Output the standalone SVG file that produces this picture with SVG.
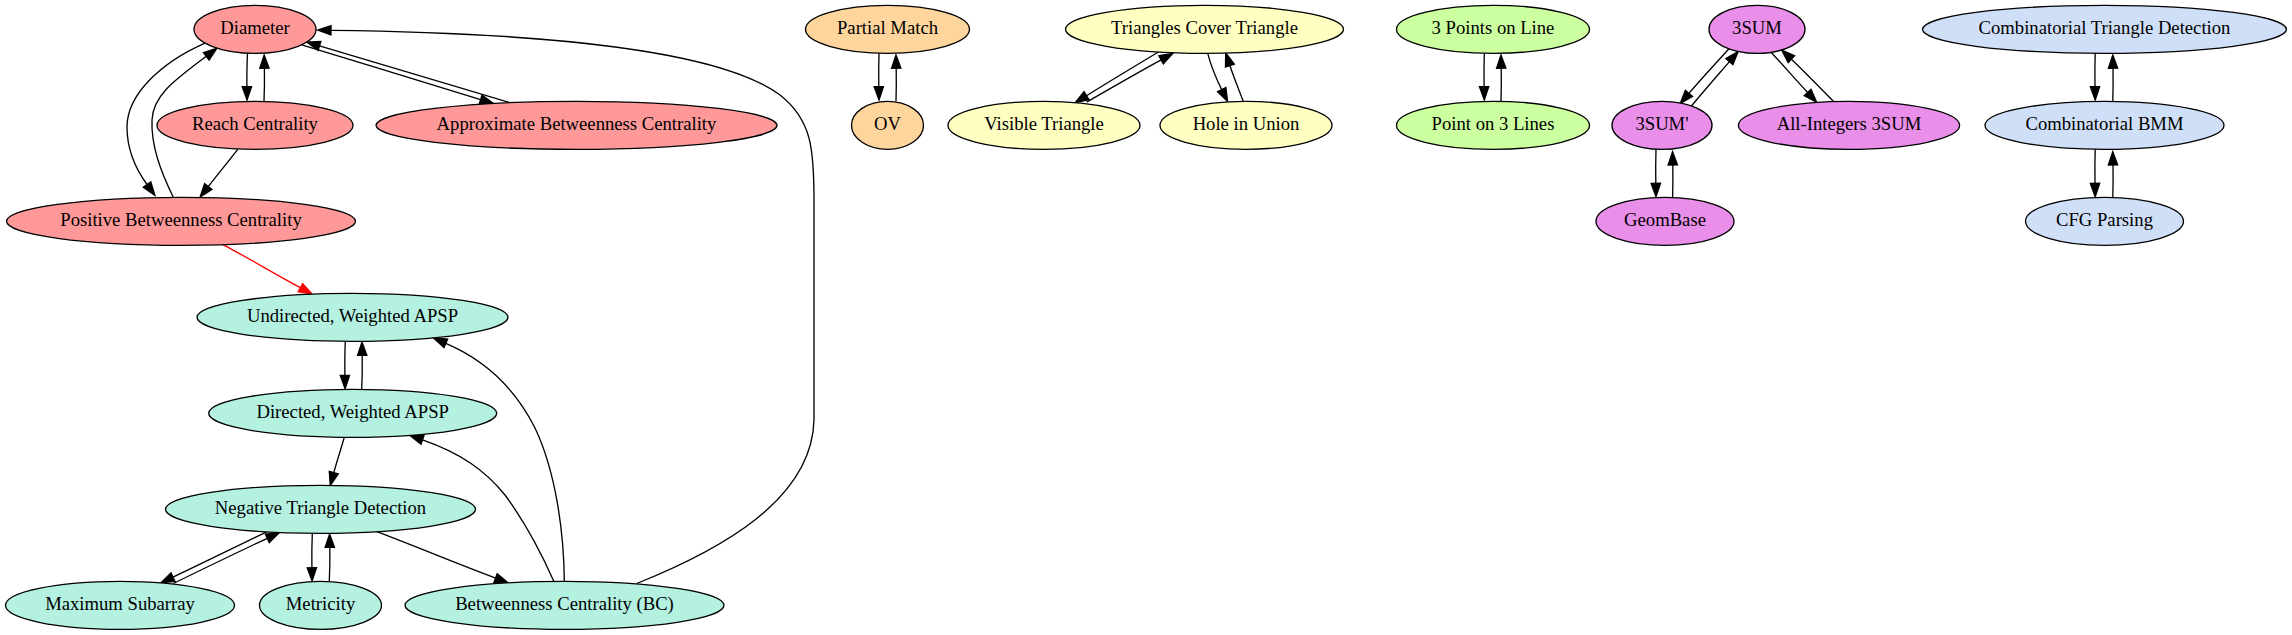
<svg xmlns="http://www.w3.org/2000/svg" width="2292" height="635" viewBox="0 0 2292 635">
<style>
  .n ellipse { stroke: #000; stroke-width: 1.33; }
  .n text { font-family: "Liberation Serif", "Times New Roman", serif; font-size: 18.67px; text-anchor: middle; fill: #000; }
  .red ellipse { fill: #ff9999; }
  .teal ellipse { fill: #b4f1e1; }
  .orange ellipse { fill: #ffd59e; }
  .yellow ellipse { fill: #ffffc2; }
  .green ellipse { fill: #ccff9f; }
  .mag ellipse { fill: #e98ee9; }
  .blue ellipse { fill: #d0dff8; }
  .e path { fill: none; stroke: #000; stroke-width: 1.33; marker-end: url(#arr); }
  .e path.hl { stroke: #ff0000; marker-end: url(#arrR); }
</style>
<defs>
  <marker id="arr" viewBox="-1 -1 15.33 11.33" refX="0" refY="4.67" markerWidth="15.33" markerHeight="11.33" markerUnits="userSpaceOnUse" orient="auto" overflow="visible">
    <path d="M0,0 L13.33,4.67 L0,9.33 Z" fill="#000" stroke="#000" stroke-width="1.33"/>
  </marker>
  <marker id="arrR" viewBox="-1 -1 15.33 11.33" refX="0" refY="4.67" markerWidth="15.33" markerHeight="11.33" markerUnits="userSpaceOnUse" orient="auto" overflow="visible">
    <path d="M0,0 L13.33,4.67 L0,9.33 Z" fill="#ff0000" stroke="#ff0000" stroke-width="1.33"/>
  </marker>
</defs>
<rect width="2292" height="635" fill="#ffffff"/>

<g id="edges" class="e">
  <path d="M247.5,53.1 C247,63 246.8,74 246.9,86.7"/>
  <path d="M264,101 C264.4,92 264.6,80 264.4,68.3"/>
  <path d="M301.7,44.8 C360,62.5 425,82.5 480.6,99.6"/>
  <path d="M510,102.7 C450,85 385,65.5 319.5,45.9"/>
  <path d="M205,43.1 C160,63 127,95 127,127 C127,150 135,168 147,184.5"/>
  <path d="M173.3,197.3 C160,170 151,145 152,120 C153,95 175,80 206.3,56.3"/>
  <path d="M237.7,149.3 C228,162 218,174 208.3,186.5"/>
  <path class="hl" d="M223,244.6 C250,259 275,274 300.4,287.7"/>
  <path d="M345.3,341.3 C344.8,352 344.7,363 344.9,375.4"/>
  <path d="M361.7,389.3 C362.2,379 362.4,368 362.2,355.3"/>
  <path d="M344.3,437.3 C341,449 337,461 333.8,472.6"/>
  <path d="M266.7,531.8 C235,547 203,563 173,577.1"/>
  <path d="M173.3,583.5 C205,568 236,553 267.3,538.3"/>
  <path d="M312.3,533.5 C311.8,545 311.7,556 311.9,567.7"/>
  <path d="M329.3,581.5 C329.8,571 330,560 329.8,547.3"/>
  <path d="M376.7,531.7 C415,546 455,563 495.6,578.1"/>
  <path d="M564.3,581.5 C564,530 555,470 535,428 C515,388 485,360 445.8,343.3"/>
  <path d="M554,581.7 C540,550 522,518 505,495 C485,470 460,453 422.5,439.9"/>
  <path d="M636.7,583.5 C720,550 812,500 814,420 L814,200 C814,150 812,120 780,95 C720,50 550,33 331,30.3"/>
  <path d="M879,53.3 C878.7,63 878.6,74 878.8,86.7"/>
  <path d="M896,101 C896.3,92 896.4,80 896.2,68.3"/>
  <path d="M1158.3,52 C1135,66 1110,81 1086.5,95.7"/>
  <path d="M1086.7,102 C1111,88 1137,73 1161.1,59.8"/>
  <path d="M1207.7,53.3 C1211,66 1216,78 1221.7,89.6"/>
  <path d="M1243.3,101.3 C1239,90 1234,78 1229.9,65.5"/>
  <path d="M1484.3,53.3 C1484,63 1483.9,74 1484.1,86.7"/>
  <path d="M1501,101 C1501.3,92 1501.4,80 1501.2,68.3"/>
  <path d="M1729,48.8 C1716,63 1702,78 1688.9,93.4"/>
  <path d="M1691,106.5 C1703,92 1717,76 1729.4,61.6"/>
  <path d="M1771,52.3 C1783,65 1795,79 1807.6,92.5"/>
  <path d="M1833.7,101.6 C1820,88 1806,73 1791.4,59.2"/>
  <path d="M1656,149.3 C1655.7,159 1655.6,170 1655.8,183.3"/>
  <path d="M1672.6,197.3 C1672.9,188 1673,177 1672.8,165"/>
  <path d="M2095.2,53.3 C2094.9,63 2094.8,74 2095,86.7"/>
  <path d="M2112.8,101 C2113.1,92 2113.2,80 2113,68.3"/>
  <path d="M2095.2,149.3 C2094.9,159 2094.8,170 2095,183.3"/>
  <path d="M2112.8,197.3 C2113.1,188 2113.2,177 2113,165"/>
</g>

<g id="diameter" class="n red"><ellipse cx="255" cy="29.33" rx="61" ry="24"/><text x="255" y="34.27">Diameter</text></g>
<g id="reach" class="n red"><ellipse cx="255" cy="125.33" rx="98" ry="24"/><text x="255" y="130.27">Reach Centrality</text></g>
<g id="approx_bc" class="n red"><ellipse cx="576.5" cy="125.33" rx="200.5" ry="24"/><text x="576.5" y="130.27">Approximate Betweenness Centrality</text></g>
<g id="positive_bc" class="n red"><ellipse cx="181" cy="221.33" rx="174.5" ry="24"/><text x="181" y="226.27">Positive Betweenness Centrality</text></g>

<g id="undirected_apsp" class="n teal"><ellipse cx="352.5" cy="317.33" rx="155.5" ry="24"/><text x="352.5" y="322.27">Undirected, Weighted APSP</text></g>
<g id="directed_apsp" class="n teal"><ellipse cx="352.7" cy="413.33" rx="144" ry="24"/><text x="352.7" y="418.27">Directed, Weighted APSP</text></g>
<g id="neg_triangle" class="n teal"><ellipse cx="320.5" cy="509.33" rx="155" ry="24"/><text x="320.5" y="514.27">Negative Triangle Detection</text></g>
<g id="max_subarray" class="n teal"><ellipse cx="120" cy="605.33" rx="114.5" ry="24"/><text x="120" y="610.27">Maximum Subarray</text></g>
<g id="metricity" class="n teal"><ellipse cx="320.5" cy="605.33" rx="61" ry="24"/><text x="320.5" y="610.27">Metricity</text></g>
<g id="bc" class="n teal"><ellipse cx="564.5" cy="605.33" rx="159.5" ry="24"/><text x="564.5" y="610.27">Betweenness Centrality (BC)</text></g>

<g id="partial_match" class="n orange"><ellipse cx="887.5" cy="29.33" rx="82" ry="24"/><text x="887.5" y="34.27">Partial Match</text></g>
<g id="ov" class="n orange"><ellipse cx="887.5" cy="125.33" rx="36" ry="24"/><text x="887.5" y="130.27">OV</text></g>

<g id="triangles_cover" class="n yellow"><ellipse cx="1204.5" cy="29.33" rx="139" ry="24"/><text x="1204.5" y="34.27">Triangles Cover Triangle</text></g>
<g id="visible_triangle" class="n yellow"><ellipse cx="1044" cy="125.33" rx="96" ry="24"/><text x="1044" y="130.27">Visible Triangle</text></g>
<g id="hole_in_union" class="n yellow"><ellipse cx="1246" cy="125.33" rx="86" ry="24"/><text x="1246" y="130.27">Hole in Union</text></g>

<g id="three_points" class="n green"><ellipse cx="1493" cy="29.33" rx="96.5" ry="24"/><text x="1493" y="34.27">3 Points on Line</text></g>
<g id="point_three_lines" class="n green"><ellipse cx="1493" cy="125.33" rx="96.5" ry="24"/><text x="1493" y="130.27">Point on 3 Lines</text></g>

<g id="threesum" class="n mag"><ellipse cx="1757" cy="29.33" rx="48" ry="24"/><text x="1757" y="34.27">3SUM</text></g>
<g id="threesum_prime" class="n mag"><ellipse cx="1662" cy="125.33" rx="50" ry="24"/><text x="1662" y="130.27">3SUM'</text></g>
<g id="all_integers" class="n mag"><ellipse cx="1849" cy="125.33" rx="110.6" ry="24"/><text x="1849" y="130.27">All-Integers 3SUM</text></g>
<g id="geombase" class="n mag"><ellipse cx="1665" cy="221.33" rx="69" ry="24"/><text x="1665" y="226.27">GeomBase</text></g>

<g id="comb_triangle" class="n blue"><ellipse cx="2104.5" cy="29.33" rx="182" ry="24"/><text x="2104.5" y="34.27">Combinatorial Triangle Detection</text></g>
<g id="comb_bmm" class="n blue"><ellipse cx="2104.5" cy="125.33" rx="119.5" ry="24"/><text x="2104.5" y="130.27">Combinatorial BMM</text></g>
<g id="cfg" class="n blue"><ellipse cx="2104.5" cy="221.33" rx="79" ry="24"/><text x="2104.5" y="226.27">CFG Parsing</text></g>
</svg>
